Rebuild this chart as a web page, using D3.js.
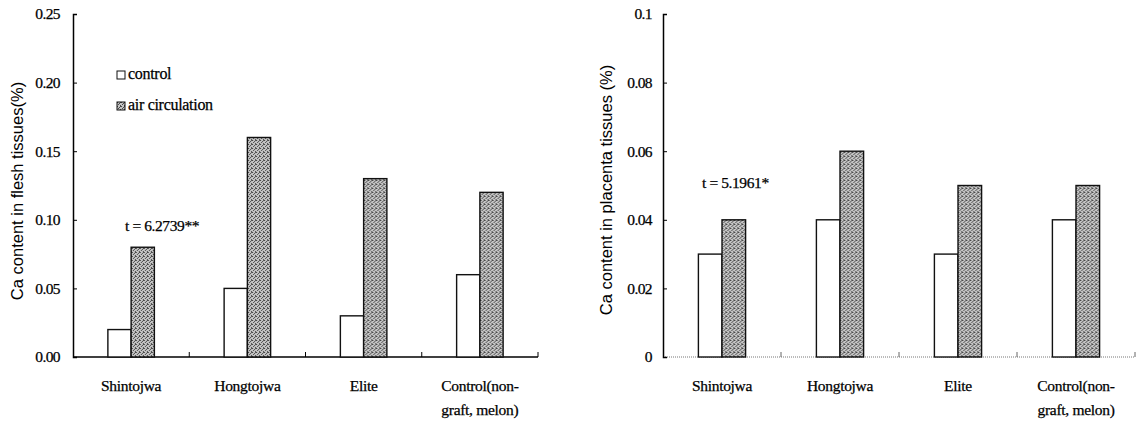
<!DOCTYPE html>
<html>
<head>
<meta charset="utf-8">
<script src="https://cdn.jsdelivr.net/npm/d3@7"></script>
<style>
	body { margin: 0; background: #fff; }
</style>
</head>
<body>
<svg id="chart" width="1142" height="421"></svg>
<script>
// categories and values
var categories = ["Shintojwa", "Hongtojwa", "Elite", "Control(non-graft, melon)"];
var categoryLines = [["Shintojwa"], ["Hongtojwa"], ["Elite"], ["Control(non-", "graft, melon)"]];
var seriesNames = ["control", "air circulation"];

var fleshControl = [0.02, 0.05, 0.03, 0.06];
var fleshAir = [0.08, 0.16, 0.13, 0.12];
var placentaControl = [0.03, 0.04, 0.03, 0.04];
var placentaAir = [0.04, 0.06, 0.05, 0.05];

var fleshTicks = [0, 0.05, 0.10, 0.15, 0.20, 0.25];
var fleshTickLabels = ["0.00", "0.05", "0.10", "0.15", "0.20", "0.25"];
var placentaTicks = [0, 0.02, 0.04, 0.06, 0.08, 0.1];
var placentaTickLabels = ["0", "0.02", "0.04", "0.06", "0.08", "0.1"];

var SERIF = "'Liberation Serif'";
var SANS = "'Liberation Sans', Arial, sans-serif";

var svg = d3.select("#chart");

// stippled grey fill for the air circulation bars
var defs = svg.append("defs");
var pat = defs.append("pattern")
	.attr("id", "stipple")
	.attr("patternUnits", "userSpaceOnUse")
	.attr("width", 4).attr("height", 4);
pat.append("rect").attr("width", 4).attr("height", 4).attr("fill", "#c4c4c4");
[[0, 0], [2, 1], [1, 2], [3, 3], [3, 0]].forEach(function(p)
{
	pat.append("rect").attr("x", p[0]).attr("y", p[1])
		.attr("width", 1).attr("height", 1).attr("fill", "#4a4a4a");
});

// serif labels look a bit heavier in the scanned original
function serifText(sel, size)
{
	return sel.style("font-family", SERIF)
		.style("font-size", size)
		.attr("stroke", "#000")
		.attr("stroke-width", 0.25);
}

function Panel(opts)
{
	var g = svg.append("g");
	var x = d3.scaleBand().domain(categories).range([opts.left, opts.right]);
	var y = d3.scaleLinear().domain([0, opts.max]).range([opts.bottom, opts.top]);
	var sub = d3.scaleBand().domain(seriesNames)
				.range([0, x.bandwidth() * 0.4]);
	var off = x.bandwidth() * 0.3;

	// x axis line
	var xl = g.append("line")
		.attr("x1", opts.left).attr("x2", opts.right)
		.attr("y1", y(0)).attr("y2", y(0));
	if(opts.dottedBase)
		xl.attr("stroke", "#777").attr("stroke-width", 1).attr("stroke-dasharray", "1,1");
	else
		xl.attr("stroke", "#000").attr("stroke-width", 1.5);

	// boundary ticks between categories
	var bounds = categories.slice(1).map(function(c) { return x(c); }).concat([opts.right]);
	g.selectAll(".bt").data(bounds).enter().append("line")
		.attr("x1", function(d) { return d; }).attr("x2", function(d) { return d; })
		.attr("y1", y(0)).attr("y2", y(0) - 5)
		.attr("stroke", opts.dottedBase ? "#666" : "#000")
		.attr("stroke-width", 1);

	// bars
	var rows = categories.map(function(c, i) { return {cat: c, vals: [opts.control[i], opts.air[i]]}; });
	var grp = g.selectAll(".grp").data(rows).enter().append("g")
		.attr("transform", function(d) { return "translate(" + (x(d.cat) + off) + ",0)"; });
	grp.selectAll("rect").data(function(d) { return d.vals.map(function(v, k) { return {s: seriesNames[k], v: v}; }); })
		.enter().append("rect")
		.attr("x", function(d) { return sub(d.s); })
		.attr("width", sub.bandwidth())
		.attr("y", function(d) { return y(d.v); })
		.attr("height", function(d) { return y(0) - y(d.v); })
		.attr("fill", function(d) { return d.s === "control" ? "#fff" : "url(#stipple)"; })
		.attr("stroke", "#111")
		.attr("stroke-width", 1.4);

	// y axis, ticks pointing inward
	var ya = g.append("g")
		.attr("transform", "translate(" + opts.left + ",0)")
		.call(d3.axisLeft(y)
			.tickValues(opts.ticks)
			.tickSize(-4)
			.tickPadding(opts.pad)
			.tickFormat(function(d, i) { return opts.tickLabels[i]; }));
	ya.attr("font-family", null).attr("font-size", null);
	ya.select(".domain").attr("stroke-width", 1.5);
	serifText(ya.selectAll("text"), "15.5px")
		.attr("letter-spacing", "-0.6px");

	// category labels
	var lab = serifText(g.selectAll(".cl").data(categories).enter().append("text"), "15.5px")
		.attr("text-anchor", "middle")
		.attr("letter-spacing", "-0.3px")
		.attr("x", function(d) { return x(d) + x.bandwidth() / 2; })
		.attr("y", y(0) + 34);
	lab.each(function(d, i)
	{
		var t = d3.select(this);
		categoryLines[i].forEach(function(line, j)
		{
			t.append("tspan")
				.attr("x", x(d) + x.bandwidth() / 2)
				.attr("dy", j === 0 ? 0 : 24)
				.text(line);
		});
	});

	// y title
	g.append("text")
		.style("font-family", SANS)
		.style("font-size", "16.5px")
		.attr("text-anchor", "middle")
		.attr("dominant-baseline", "central")
		.attr("transform", "translate(" + opts.titleX + "," + opts.titleY + ") rotate(-90)")
		.text(opts.title);

	// t statistic
	serifText(g.append("text"), "15.5px")
		.attr("letter-spacing", "-0.4px")
		.attr("x", opts.tX).attr("y", opts.tY)
		.text(opts.tText);

	return {x: x, y: y, g: g};
}

var left = Panel({
	left: 73, right: 538, top: 14, bottom: 357, max: 0.25,
	control: fleshControl, air: fleshAir,
	ticks: fleshTicks, tickLabels: fleshTickLabels, pad: 13,
	title: "Ca content in flesh tissues(%)", titleX: 17, titleY: 191,
	tText: "t = 6.2739**", tX: 125, tY: 231,
	dottedBase: false
});

Panel({
	left: 663, right: 1135, top: 14, bottom: 357, max: 0.1,
	control: placentaControl, air: placentaAir,
	ticks: placentaTicks, tickLabels: placentaTickLabels, pad: 11,
	title: "Ca content in placenta tissues (%)", titleX: 606, titleY: 190,
	tText: "t = 5.1961*", tX: 702, tY: 188,
	dottedBase: true
});

// legend in the left panel
var legend = left.g.selectAll(".lg").data(seriesNames).enter().append("g")
	.attr("transform", function(d, i) { return "translate(117," + (71 + i * 31) + ")"; });
legend.append("rect")
	.attr("width", 8).attr("height", 8)
	.attr("fill", function(d) { return d === "control" ? "#fff" : "url(#stipple)"; })
	.attr("stroke", "#111").attr("stroke-width", 1);
serifText(legend.append("text"), "16px")
	.attr("letter-spacing", "-0.3px")
	.attr("x", 11).attr("y", 8)
	.text(function(d) { return d; });
</script>
</body>
</html>
